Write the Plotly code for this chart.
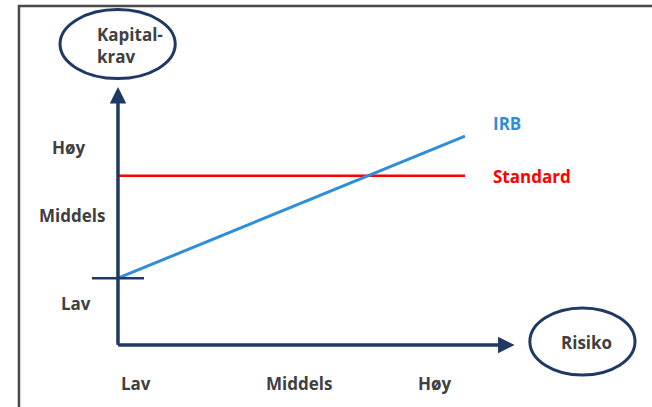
import plotly.graph_objects as go

# Data (conceptual units: risk 0..1 along x, capital requirement along y)
risk = [0.0, 1.0]
irb = [0.32, 1.0]
standard = [0.81, 0.81]
y_tick_labels = ["Høy", "Middels", "Lav"]
y_tick_pos = [0.947, 0.622, 0.201]
y_tick_x = [-0.141, -0.133, -0.121]
x_tick_labels = ["Lav", "Middels", "Høy"]
x_tick_pos = [0.052, 0.521, 0.914]
series_names = ["IRB", "Standard"]

NAVY = "#1F3864"
GRAY = "#404040"
BLUE = "#2E8FD8"
RED = "#FF0000"
FONT = "Open Sans"
FS = 17

fig = go.Figure()
fig.add_trace(go.Scatter(x=risk, y=standard, mode="lines",
                         line=dict(color=RED, width=2.5), hoverinfo="skip"))
fig.add_trace(go.Scatter(x=risk, y=irb, mode="lines",
                         line=dict(color=BLUE, width=3), hoverinfo="skip"))

ann = []
# axis arrows
ann.append(dict(x=0, y=1.235, ax=0, ay=0, xref="x", yref="y", axref="x", ayref="y",
                showarrow=True, arrowhead=2, arrowsize=1.1, arrowwidth=3, arrowcolor=NAVY, text=""))
ann.append(dict(x=1.143, y=0, ax=0, ay=0, xref="x", yref="y", axref="x", ayref="y",
                showarrow=True, arrowhead=2, arrowsize=1.1, arrowwidth=3, arrowcolor=NAVY, text=""))
for t, p, xx in zip(y_tick_labels, y_tick_pos, y_tick_x):
    ann.append(dict(x=xx, y=p, xref="x", yref="y", text=f"<b>{t}</b>", showarrow=False,
                    font=dict(family=FONT, size=FS, color=GRAY)))
for t, p in zip(x_tick_labels, x_tick_pos):
    ann.append(dict(x=p, y=-0.182, xref="x", yref="y", text=f"<b>{t}</b>", showarrow=False,
                    font=dict(family=FONT, size=FS, color=GRAY)))
ann.append(dict(x=1.074, y=1.06, xref="x", yref="y", text=f"<b>{series_names[0]}</b>", showarrow=False,
                xanchor="left", font=dict(family=FONT, size=FS, color=BLUE)))
ann.append(dict(x=1.074, y=0.805, xref="x", yref="y", text=f"<b>{series_names[1]}</b>", showarrow=False,
                xanchor="left", font=dict(family=FONT, size=FS, color=RED)))
ann.append(dict(x=-0.066, y=1.435, xref="x", yref="y", text="<b>Kapital-<br>krav</b>", showarrow=False,
                xanchor="left", align="left", font=dict(family=FONT, size=FS, color=GRAY)))
ann.append(dict(x=1.349, y=0.01, xref="x", yref="y", text="<b>Risiko</b>", showarrow=False,
                font=dict(family=FONT, size=FS, color=GRAY)))

shapes = [
    # frame
    dict(type="path", xref="paper", yref="paper", path="M 0.0291,0 L 0.0291,0.985 L 1.0,0.985",
         line=dict(color="#4a4a4a", width=2.5)),
    # y-axis and x-axis lines
    dict(type="line", xref="x", yref="y", x0=0, y0=0, x1=0, y1=1.2, line=dict(color=NAVY, width=3)),
    dict(type="line", xref="x", yref="y", x0=0, y0=0, x1=1.11, y1=0, line=dict(color=NAVY, width=3)),
    # tick at IRB start
    dict(type="line", xref="x", yref="y", x0=-0.075, y0=irb[0], x1=0.075, y1=irb[0],
         line=dict(color=NAVY, width=2.5)),
    # ellipses
    dict(type="circle", xref="x", yref="y", x0=-0.167, x1=0.165, y0=1.275, y1=1.605,
         line=dict(color=NAVY, width=3)),
    dict(type="circle", xref="x", yref="y", x0=1.187, x1=1.49, y0=-0.144, y1=0.177,
         line=dict(color=NAVY, width=3)),
]

fig.update_layout(
    width=652, height=407, margin=dict(l=0, r=0, t=0, b=0),
    paper_bgcolor="white", plot_bgcolor="white", showlegend=False,
    xaxis=dict(range=[-0.340, 1.539], visible=False, fixedrange=True),
    yaxis=dict(range=[-0.2967, 1.651], visible=False, fixedrange=True),
    annotations=ann, shapes=shapes,
)
fig.write_html("out.html")
